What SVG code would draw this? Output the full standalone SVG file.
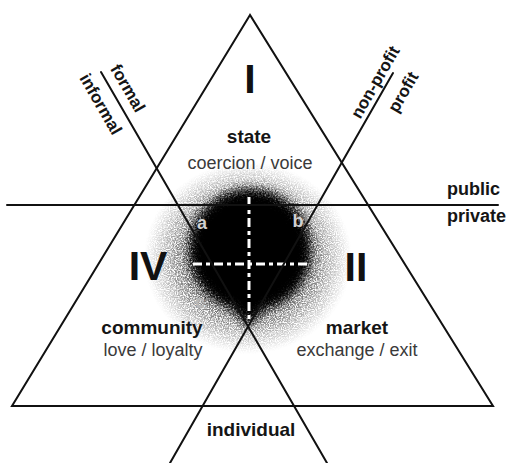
<svg xmlns="http://www.w3.org/2000/svg" width="506" height="463" viewBox="0 0 506 463">
<style>
.ln{stroke:#111;stroke-width:2;fill:none;stroke-linecap:round}
.b{font-family:"Liberation Sans",Arial,sans-serif;font-weight:bold;fill:#151515}
.n{font-family:"Liberation Sans",Arial,sans-serif;fill:#3a3a3a}
.big{font-family:"Liberation Sans",Arial,sans-serif;font-weight:bold;fill:#111;font-size:41px;text-anchor:middle}
.t{font-size:19px;text-anchor:middle}
.s{font-size:18px;text-anchor:middle}
.r{font-size:17px;text-anchor:middle}
.dash{stroke:#fff;stroke-width:3;fill:none;stroke-dasharray:9 4 4 4}
.lt{font-family:"Liberation Sans",Arial,sans-serif;font-weight:bold;font-size:18px;text-anchor:middle}
</style>
<defs>
<radialGradient id="halo" cx="0.5" cy="0.5" r="0.5">
<stop offset="0" stop-color="#333" stop-opacity="1"/>
<stop offset="0.45" stop-color="#444" stop-opacity="1"/>
<stop offset="0.7" stop-color="#666" stop-opacity="0.75"/>
<stop offset="0.88" stop-color="#888" stop-opacity="0.35"/>
<stop offset="1" stop-color="#aaa" stop-opacity="0"/>
</radialGradient>
<filter id="speck" x="0" y="0" width="100%" height="100%">
<feTurbulence type="fractalNoise" baseFrequency="0.85" numOctaves="2" seed="5" result="n"/>
<feColorMatrix in="n" type="matrix" values="0 0 0 0 0  0 0 0 0 0  0 0 0 0 0  3.2 0 0 0 -1.0" result="m"/>
<feComposite in="SourceGraphic" in2="m" operator="in"/>
</filter>
<filter id="soft" x="-30%" y="-30%" width="160%" height="160%">
<feGaussianBlur stdDeviation="5" result="bl"/>
<feTurbulence type="fractalNoise" baseFrequency="0.6" numOctaves="2" seed="7" result="n"/>
<feDisplacementMap in="bl" in2="n" scale="16" xChannelSelector="R" yChannelSelector="G"/>
</filter>
</defs>

<g id="blob">
<ellipse cx="248" cy="258" rx="104" ry="96" fill="url(#halo)" filter="url(#speck)"/>
<g filter="url(#soft)" fill="#000">
<ellipse cx="250" cy="250" rx="61" ry="61"/>
<polygon points="196,270 304,270 248,326"/>
</g>
<line class="dash" x1="249" y1="197" x2="249" y2="324"/>
<line class="dash" x1="193" y1="264" x2="308" y2="264"/>
<text class="lt" x="202" y="229" fill="#d0d0d0">a</text>
<text class="lt" x="298" y="227" fill="#d0d0d0">b</text>
<text class="lt" x="200" y="308" fill="#b8b8b8">c</text>
</g>

<g id="connectors">
<polygon class="ln" points="250,15 12,406 493,406"/>
<line class="ln" x1="101" y1="72" x2="327" y2="463"/>
<line class="ln" x1="393" y1="73" x2="170" y2="463"/>
<line class="ln" x1="7" y1="205" x2="498" y2="205"/>
</g>

<g id="state">
<text class="big" x="250" y="93">I</text>
<text class="b t" x="249" y="143">state</text>
<text class="n s" x="250" y="169">coercion / voice</text>
</g>

<g id="community">
<text class="big" x="148" y="280">IV</text>
<text class="b t" x="152" y="334">community</text>
<text class="n s" x="153" y="356">love / loyalty</text>
</g>

<g id="market">
<text class="big" x="356" y="281">II</text>
<text class="b t" x="357" y="334">market</text>
<text class="n s" x="357" y="356">exchange / exit</text>
</g>

<g id="individual">
<text class="b t" x="251" y="436">individual</text>
</g>

<g id="public-private">
<text class="b" x="447" y="195" font-size="18">public</text>
<text class="b" x="447" y="222" font-size="18">private</text>
</g>

<g id="formal-informal">
<text class="b r" transform="translate(128,88) rotate(60)" dy="6">formal</text>
<text class="b r" transform="translate(101,104) rotate(60)" dy="6">informal</text>
</g>

<g id="profit-nonprofit">
<text class="b r" transform="translate(375,82) rotate(-60)" dy="6">non-profit</text>
<text class="b r" transform="translate(403,92) rotate(-60)" dy="6">profit</text>
</g>
</svg>
